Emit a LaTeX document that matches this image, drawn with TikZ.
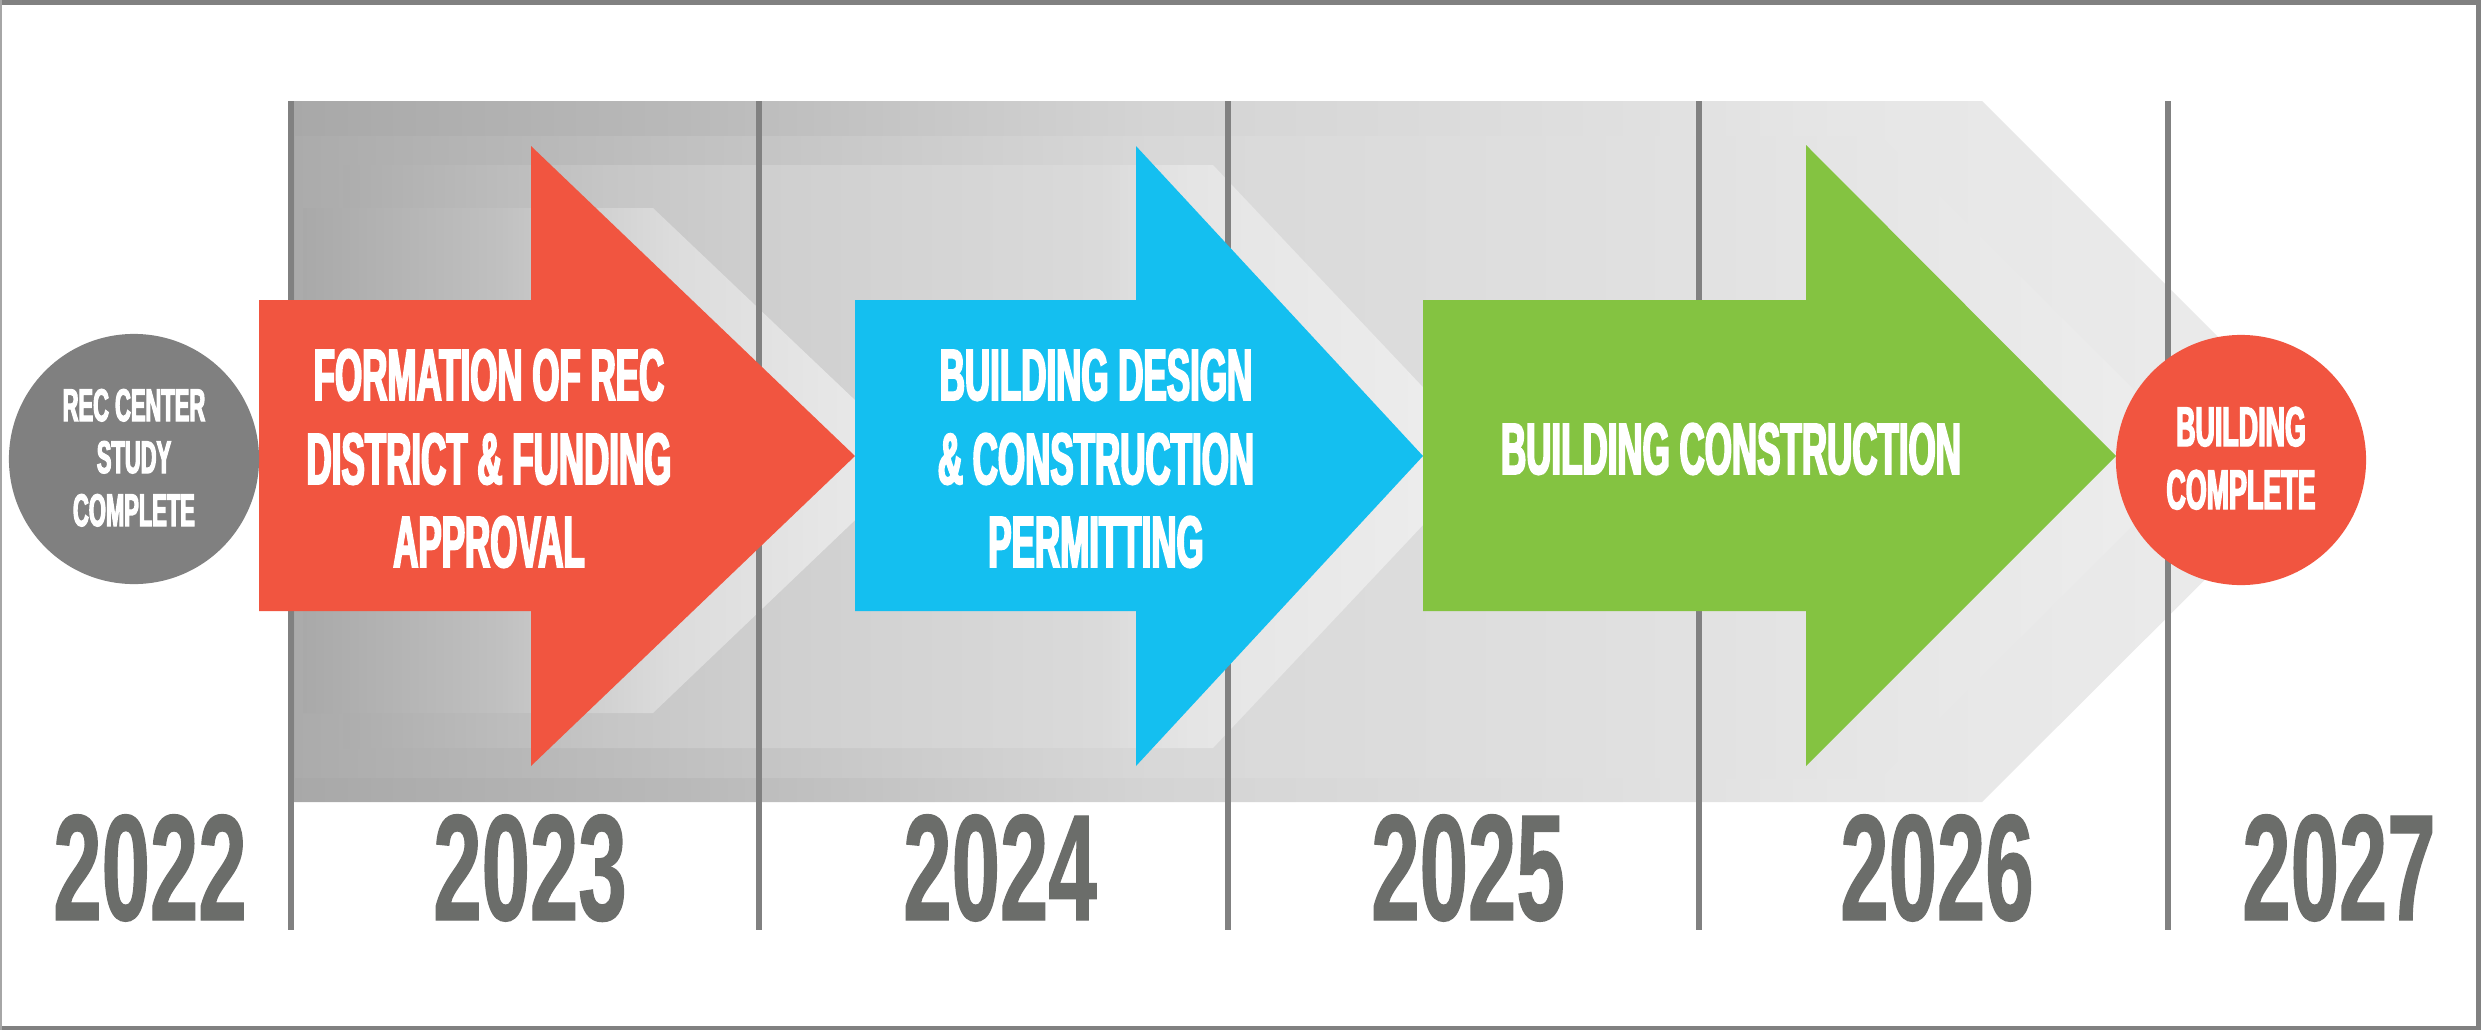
\documentclass[tikz,border=0pt]{standalone}
\usepackage{fontspec}
\newfontfamily\lblfont{Liberation Sans}[FakeStretch=0.48,FakeBold=2.5]
\newfontfamily\yrfont{Liberation Sans}[FakeStretch=0.575,FakeBold=0.8]
\definecolor{recred}{HTML}{F15540}
\definecolor{recblue}{HTML}{14BFF0}
\definecolor{recgreen}{HTML}{84C341}
\definecolor{circgray}{HTML}{808080}
\definecolor{yeargray}{HTML}{6B6D6A}
\definecolor{linegray}{HTML}{818181}
\pgfdeclarehorizontalshading{shadeA}{100bp}{gray(0bp)=(0.659); gray(25bp)=(0.659); gray(35bp)=(0.729); gray(46bp)=(0.831); gray(58bp)=(0.878); gray(63bp)=(0.902); gray(75bp)=(0.925); gray(100bp)=(0.925)}
\pgfdeclarehorizontalshading{shadeB}{100bp}{gray(0bp)=(0.671); gray(25bp)=(0.671); gray(37bp)=(0.769); gray(47.5bp)=(0.847); gray(60bp)=(0.878); gray(66.5bp)=(0.902); gray(75bp)=(0.933); gray(100bp)=(0.933)}
\pgfdeclarehorizontalshading{shadeC}{100bp}{gray(0bp)=(0.678); gray(25bp)=(0.678); gray(36.5bp)=(0.776); gray(43.5bp)=(0.812); gray(58bp)=(0.855); gray(62bp)=(0.898); gray(75bp)=(0.933); gray(100bp)=(0.933)}
\pgfdeclarehorizontalshading{shadeD}{100bp}{gray(0bp)=(0.663); gray(25bp)=(0.663); gray(41bp)=(0.753); gray(43.5bp)=(0.776); gray(55bp)=(0.863); gray(67.5bp)=(0.902); gray(75bp)=(0.918); gray(100bp)=(0.918)}
\tikzset{
  lbl/.style={text=white, font=\lblfont\bfseries\fontsize{20.7pt}{24pt}\selectfont, anchor=base, inner sep=0pt},
  smalllbl/.style={text=white, font=\lblfont\bfseries\fontsize{13pt}{15pt}\selectfont, anchor=base, inner sep=0pt},
  endlbl/.style={text=white, font=\lblfont\bfseries\fontsize{15.9pt}{18pt}\selectfont, anchor=base, inner sep=0pt},
  yearlbl/.style={text=yeargray, font=\yrfont\bfseries\fontsize{43pt}{50pt}\selectfont, anchor=base, inner sep=0pt},
  yearline/.style={draw=linegray, line width=0.06cm},
  milestone/.style={circle, minimum size=2.5cm, inner sep=0pt, draw=none}
}
\begin{document}
\begin{tikzpicture}[x=0.01cm, y=-0.01cm]
\useasboundingbox (0,0) rectangle (2481,1030);
\fill[white] (0,0) rectangle (2481,1030);
% layered chevron background
\shade[shading=shadeA] (291,101) -- (1982,101) -- (2333,452) -- (1982,802) -- (291,802) -- cycle;
\shade[shading=shadeB] (295,136) -- (1880,136) -- (2201,457) -- (1880,778) -- (295,778) -- cycle;
\shade[shading=shadeC] (343,165) -- (1213,165) -- (1488,456) -- (1213,748) -- (343,748) -- cycle;
\shade[shading=shadeD] (303,208) -- (653,208) -- (918,460) -- (653,713) -- (303,713) -- cycle;
% year dividers
\foreach \xx in {291,759,1228,1699,2168} {
  \draw[yearline] (\xx,101) -- (\xx,930);
}
% arrows
\fill[recred] (259,300) -- (531,300) -- (531,146) -- (855,456) -- (531,766) -- (531,611) -- (259,611) -- cycle;
\fill[recblue] (855,300) -- (1136,300) -- (1136,146) -- (1423,456) -- (1136,766) -- (1136,611) -- (855,611) -- cycle;
\fill[recgreen] (1423,300) -- (1806,300) -- (1806,145) -- (2116,456) -- (1806,766) -- (1806,611) -- (1423,611) -- cycle;
% milestones
\node[milestone, fill=circgray] (startc) at (134,459) {};
\node[milestone, fill=recred] (endc) at (2241,460) {};
% texts
\node[smalllbl] (s1) at (134,421) {REC CENTER};
\node[smalllbl] (s2) at (134,473) {STUDY};
\node[smalllbl] (s3) at (134,526) {COMPLETE};
\node[lbl] (r1) at (489,400) {FORMATION OF REC};
\node[lbl] (r2) at (489,484) {DISTRICT \& FUNDING};
\node[lbl] (r3) at (489,567) {APPROVAL};
\node[lbl] (b1) at (1096,400) {BUILDING DESIGN};
\node[lbl] (b2) at (1096,484) {\& CONSTRUCTION};
\node[lbl] (b3) at (1096,567) {PERMITTING};
\node[lbl] (g1) at (1731,474) {BUILDING CONSTRUCTION};
\node[endlbl] (e1) at (2241,446) {BUILDING};
\node[endlbl] (e2) at (2241,509) {COMPLETE};
% years
\node[yearlbl] (y2022) at (150,920) {2022};
\node[yearlbl] (y2023) at (530,920) {2023};
\node[yearlbl] (y2024) at (1000,920) {2024};
\node[yearlbl] (y2025) at (1468,920) {2025};
\node[yearlbl] (y2026) at (1937,920) {2026};
\node[yearlbl] (y2027) at (2339,920) {2027};
% frame
\fill[linegray] (0,0) rectangle (2481,5);
\fill[linegray] (0,1026) rectangle (2481,1030);
\fill[linegray] (2476,0) rectangle (2481,1030);
\fill[gray!70] (0,0) rectangle (2,1030);
\end{tikzpicture}
\end{document}
